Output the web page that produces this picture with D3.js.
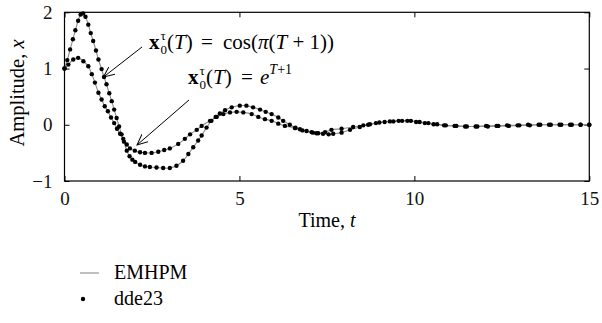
<!DOCTYPE html>
<html>
<head>
<meta charset="utf-8">
<script src="https://cdn.jsdelivr.net/npm/d3@7"></script>
<style>
  body { margin: 0; background: #fff; }
  svg { display: block; font-family: "Liberation Serif", "DejaVu Serif", serif; }
</style>
</head>
<body>
<svg id="chart" width="602" height="323"></svg>
<script>
// x0(T) = cos(pi(T+1))  -- dde23 sample points
const cosT = [0.00,0.08,0.16,0.24,0.31,0.39,0.46,0.53,0.60,0.68,0.75,0.82,0.90,0.97,1.06,1.13,1.20,1.28,1.35,1.42,1.49,1.56,1.63,1.70,1.78,1.86,1.94,2.02,2.16,2.30,2.44,2.63,2.82,3.01,3.20,3.39,3.54,3.68,3.82,3.92,4.06,4.20,4.32,4.44,4.59,4.78,5.01,5.20,5.39,5.59,5.75,5.92,6.11,6.25,6.44,6.60,6.73,6.92,7.06,7.20,7.39,7.55,7.68,7.92,8.16,8.44,8.68,8.90,9.15,9.40,9.65,9.90,10.15,10.40,10.65,10.90,11.20,11.50,11.80,12.10,12.40,12.70,13.00,13.30,13.60,13.90,14.20,14.50,14.75,15.00];
const cosX = [1.00,1.15,1.34,1.52,1.68,1.85,1.96,1.98,1.92,1.78,1.63,1.49,1.32,1.16,0.99,0.85,0.72,0.56,0.42,0.27,0.12,-0.03,-0.17,-0.30,-0.46,-0.56,-0.62,-0.66,-0.71,-0.74,-0.75,-0.76,-0.77,-0.77,-0.73,-0.64,-0.52,-0.40,-0.28,-0.19,-0.05,0.07,0.14,0.20,0.26,0.31,0.34,0.34,0.31,0.27,0.23,0.19,0.13,0.07,0.00,-0.05,-0.08,-0.11,-0.13,-0.15,-0.16,-0.17,-0.16,-0.14,-0.09,-0.04,0.00,0.03,0.05,0.06,0.07,0.07,0.05,0.03,0.01,-0.01,-0.02,-0.03,-0.03,-0.03,-0.02,-0.02,-0.01,-0.01,0.00,0.00,0.00,0.00,0.00,0.00];

// x0(T) = e^(T+1)
const expT = [0.00,0.11,0.25,0.39,0.54,0.68,0.78,0.87,0.97,1.06,1.15,1.24,1.33,1.42,1.50,1.59,1.68,1.78,1.87,2.01,2.16,2.30,2.49,2.68,2.85,3.01,3.25,3.44,3.59,3.78,3.92,4.16,4.35,4.54,4.73,4.92,5.11,5.35,5.54,5.73,5.92,6.11,6.30,6.59,6.80,7.10,7.25,7.45,7.63,7.92,8.25,8.54,8.73,9.00,9.30,9.55,9.80,10.05,10.30,10.55,10.85,11.15,11.45,11.75,12.05,12.35,12.65,12.95,13.25,13.55,13.85,14.15,14.45,14.75,15.00];
const expX = [1.00,1.07,1.16,1.19,1.13,1.04,0.90,0.75,0.57,0.45,0.33,0.24,0.13,0.03,-0.07,-0.16,-0.25,-0.35,-0.42,-0.46,-0.49,-0.50,-0.50,-0.48,-0.45,-0.42,-0.34,-0.25,-0.17,-0.09,-0.02,0.07,0.14,0.19,0.22,0.23,0.22,0.19,0.14,0.10,0.07,0.02,-0.02,-0.06,-0.10,-0.14,-0.15,-0.13,-0.09,-0.07,-0.04,-0.01,0.01,0.04,0.06,0.07,0.07,0.05,0.03,0.01,-0.01,-0.02,-0.03,-0.03,-0.02,-0.02,-0.01,-0.01,0.00,0.00,0.00,0.00,0.00,0.00,0.00];

const xTicks = [0, 5, 10, 15];
const yTicks = [-1, 0, 1, 2];
const legendLabels = ["EMHPM", "dde23"];

const svg = d3.select('#chart');
const plotLeft = 64.5, plotRight = 589.3, plotTop = 12.3, plotBottom = 181;

const x = d3.scaleLinear().domain([0, 15]).range([plotLeft, plotRight]);
const y = d3.scaleLinear().domain([-1, 2]).range([plotBottom, plotTop]);

const fmt = d => d < 0 ? '\u2212' + Math.abs(d) : String(d);

// axes, ticks pointing inward
svg.append('g')
  .attr('transform', `translate(0,${plotBottom})`)
  .call(d3.axisBottom(x).tickValues(xTicks).tickSize(-5).tickPadding(11).tickFormat(fmt))
  .call(g => g.select('.domain').remove());
svg.append('g')
  .attr('transform', `translate(0,${plotTop})`)
  .call(d3.axisTop(x).tickValues(xTicks).tickSize(-5).tickFormat(''))
  .call(g => g.select('.domain').remove());
svg.append('g')
  .attr('transform', `translate(${plotLeft},0)`)
  .call(d3.axisLeft(y).tickValues(yTicks).tickSize(-5).tickPadding(12).tickFormat(fmt))
  .call(g => g.select('.domain').remove());
svg.append('g')
  .attr('transform', `translate(${plotRight},0)`)
  .call(d3.axisRight(y).tickValues(yTicks).tickSize(-5).tickFormat(''))
  .call(g => g.select('.domain').remove());

svg.selectAll('.tick text')
  .attr('font-family', '"Liberation Serif", serif')
  .attr('font-size', 19)
  .attr('fill', '#111');
svg.selectAll('.tick line').attr('stroke', '#000');

svg.append('rect')
  .attr('x', plotLeft).attr('y', plotTop)
  .attr('width', plotRight - plotLeft).attr('height', plotBottom - plotTop)
  .attr('fill', 'none').attr('stroke', '#000').attr('stroke-width', 1.2);

// curves
const series = [
  d3.zip(cosT, cosX),
  d3.zip(expT, expX)
];

const line = d3.line()
  .x(d => x(d[0]))
  .y(d => y(d[1]))
  .curve(d3.curveCatmullRom);

svg.selectAll('.curve')
  .data(series)
  .enter()
  .append('path')
  .attr('d', line)
  .attr('fill', 'none')
  .attr('stroke', '#8c8c8c')
  .attr('stroke-width', 1.1);

series.forEach(s => {
  svg.append('g')
    .selectAll('circle')
    .data(s)
    .enter()
    .append('circle')
    .attr('cx', d => x(d[0]))
    .attr('cy', d => y(d[1]))
    .attr('r', 2.2)
    .attr('fill', '#000');
});

// axis titles
svg.append('text')
  .attr('x', 327)
  .attr('y', 227)
  .attr('text-anchor', 'middle')
  .attr('font-size', 20)
  .html('Time, <tspan font-style="italic">t</tspan>');

svg.append('text')
  .attr('transform', 'translate(24,93) rotate(-90)')
  .attr('text-anchor', 'middle')
  .attr('font-size', 20.5)
  .html('Amplitude, <tspan font-style="italic">x</tspan>');

// annotations
const defs = svg.append('defs');
defs.append('marker')
  .attr('id', 'arr')
  .attr('viewBox', '0 0 12 10')
  .attr('refX', 11).attr('refY', 5)
  .attr('markerWidth', 12).attr('markerHeight', 10)
  .attr('markerUnits', 'userSpaceOnUse')
  .attr('orient', 'auto')
  .append('path')
  .attr('d', 'M0,0 L11,5 L0,10')
  .attr('fill', 'none').attr('stroke', '#000').attr('stroke-width', 1);

svg.append('line')
  .attr('x1', 142).attr('y1', 47).attr('x2', 103.5).attr('y2', 77)
  .attr('stroke', '#000').attr('stroke-width', 1).attr('marker-end', 'url(#arr)');
svg.append('line')
  .attr('x1', 189).attr('y1', 100).attr('x2', 137).attr('y2', 145)
  .attr('stroke', '#000').attr('stroke-width', 1).attr('marker-end', 'url(#arr)');

svg.append('text')
  .attr('y', 49)
  .attr('font-size', 21)
  .html('<tspan x="149" font-weight="bold">x</tspan>' +
        '<tspan x="160.5" dy="-9" font-size="13">τ</tspan>' +
        '<tspan x="160.5" dy="14" font-size="13">0</tspan>' +
        '<tspan x="167" dy="-5">(<tspan font-style="italic">T</tspan>)</tspan>' +
        '<tspan x="201">=</tspan>' +
        '<tspan x="223">cos(<tspan font-style="italic">π</tspan>(<tspan font-style="italic">T</tspan> + 1))</tspan>');

svg.append('text')
  .attr('y', 84)
  .attr('font-size', 21)
  .html('<tspan x="188" font-weight="bold">x</tspan>' +
        '<tspan x="199.5" dy="-9" font-size="13">τ</tspan>' +
        '<tspan x="199.5" dy="14" font-size="13">0</tspan>' +
        '<tspan x="206" dy="-5">(<tspan font-style="italic">T</tspan>)</tspan>' +
        '<tspan x="241">=</tspan>' +
        '<tspan x="260" font-style="italic">e</tspan>' +
        '<tspan dy="-10" font-size="14"><tspan font-style="italic">T</tspan>+1</tspan>');

// legend
const leg = svg.append('g');
leg.append('line')
  .attr('x1', 80).attr('x2', 99).attr('y1', 273).attr('y2', 273)
  .attr('stroke', '#8c8c8c').attr('stroke-width', 1.1);
leg.append('circle')
  .attr('cx', 83).attr('cy', 299).attr('r', 2.2).attr('fill', '#000');
leg.selectAll('text')
  .data(legendLabels)
  .enter()
  .append('text')
  .attr('x', 114)
  .attr('y', (d, i) => 279 + i * 26)
  .attr('font-size', 20)
  .text(d => d);
</script>
</body>
</html>
